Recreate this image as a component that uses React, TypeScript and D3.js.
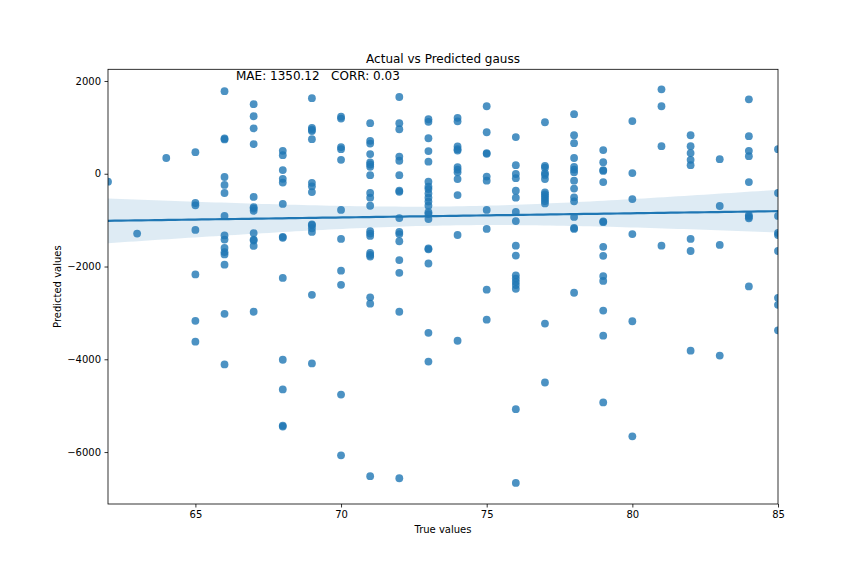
import React, { useEffect, useRef } from 'react';
import * as d3 from 'd3';

// true value -> predicted values at that true value
const trueValues = [62, 63, 64, 65, 66, 67, 68, 69, 70, 71, 72, 73, 74, 75, 76, 77, 78, 79, 80, 81, 82, 83, 84, 85];
const predicted: number[][] = [
    [-170],
    [-1290],
    [340],
    [465, -630, -680, -1210, -2170, -3170, -3620],
    [1780, 760, 740, -70, -240, -415, -910, -1330, -1420, -1600, -1690, -1740, -1960, -3020, -4110],
    [1500, 1240, 980, 640, -500, -720, -750, -800, -1280, -1420, -1440, -1555, -2975],
    [495, 400, 80, -110, -190, -650, -1360, -1380, -2245, -4010, -4650, -5430, -5450],
    [1630, 990, 950, 920, 745, -195, -270, -395, -1090, -1110, -1175, -1255, -2610, -4090],
    [1230, 1190, 575, 530, 300, -780, -1405, -2090, -2395, -4760, -6070],
    [1090, 710, 650, 425, 245, 200, 150, -30, -415, -515, -690, -1240, -1290, -1340, -1705, -1750, -1785, -2665, -2800, -6520],
    [1655, 1090, 960, 370, 280, -30, -365, -390, -955, -1255, -1300, -1455, -1860, -2135, -2975, -6565],
    [1175, 1120, 765, 490, 260, -170, -280, -330, -425, -515, -600, -690, -830, -870, -975, -1610, -1630, -1935, -3430, -4050],
    [1205, 1130, 590, 530, 500, 145, 90, 30, -115, -460, -1320, -3600],
    [1455, 895, 445, 430, -60, -150, -780, -1190, -2500, -3145],
    [790, 185, -5, -95, -365, -515, -825, -1020, -1550, -1765, -2190, -2260, -2330, -2400, -2480, -5075, -6665],
    [1110, 170, 130, 15, -25, -115, -400, -445, -490, -540, -590, -640, -3230, -4500],
    [1285, 830, 660, 340, 150, 90, 35, -150, -320, -510, -595, -930, -1170, -1190, -2565],
    [510, 250, 80, 60, -180, -1025, -1045, -1575, -1770, -2205, -2310, -2950, -3490, -4930],
    [1135, 15, -545, -1300, -3180, -5660],
    [1820, 1455, 595, -1550],
    [830, 595, 445, 300, 185, -1405, -1665, -3815],
    [315, -695, -1535, -3920],
    [1605, 810, 495, 380, -180, -895, -925, -960, -2430],
    [530, -415, -910, -1275, -1320, -1665, -2675, -2825, -3375],
];
const xTicks = [65, 70, 75, 80, 85];
const yTicks = [-6000, -4000, -2000, 0, 2000];
const titleText = 'Actual vs Predicted gauss';
const scoreText = 'MAE: 1350.12   CORR: 0.03';

interface Pt { x: number; y: number; }

export default function App() {
    const svgRef = useRef<SVGSVGElement>(null);

    useEffect(() => {
        if (!svgRef.current) return;
        const svg = d3.select(svgRef.current);
        svg.selectAll('*').remove();

        const W = 864, H = 576;
        const margin = { top: 69.3, right: 86, bottom: 72, left: 108 };
        const width = W - margin.left - margin.right;
        const height = H - margin.top - margin.bottom;
        const font = '"DejaVu Sans", sans-serif';
        const color = '#1f77b4';

        const points: Pt[] = [];
        trueValues.forEach((tv, i) => predicted[i].forEach(p => points.push({ x: tv, y: p })));

        const x = d3.scaleLinear().domain([62, 85]).range([0, width]);
        const y = d3.scaleLinear().domain([-7120, 2252]).range([height, 0]);

        svg.append('defs').append('clipPath').attr('id', 'plot-clip')
            .append('rect').attr('width', width).attr('height', height);

        const g = svg.append('g').attr('transform', `translate(${margin.left},${margin.top})`);
        const plot = g.append('g').attr('clip-path', 'url(#plot-clip)');

        // Regression (OLS) with 95% CI of the mean
        const n = points.length;
        const mx = d3.mean(points, d => d.x)!;
        const my = d3.mean(points, d => d.y)!;
        const sxx = d3.sum(points, d => (d.x - mx) ** 2);
        const sxy = d3.sum(points, d => (d.x - mx) * (d.y - my));
        const slope = sxy / sxx;
        const icpt = my - slope * mx;
        const resid = d3.sum(points, d => (d.y - (icpt + slope * d.x)) ** 2);
        const s = Math.sqrt(resid / (n - 2));
        const grid = d3.range(0, 101).map(i => 62 + (23 * i) / 100);
        const band = grid.map(gx => {
            const fit = icpt + slope * gx;
            const se = s * Math.sqrt(1 / n + (gx - mx) ** 2 / sxx);
            return { x: gx, fit, lo: fit - 1.96 * se, hi: fit + 1.96 * se };
        });

        plot.append('path')
            .datum(band)
            .attr('fill', color)
            .attr('fill-opacity', 0.15)
            .attr('d', d3.area<typeof band[0]>().x(d => x(d.x)).y0(d => y(d.lo)).y1(d => y(d.hi)));

        // Scatter
        plot.append('g')
            .selectAll('circle')
            .data(points)
            .join('circle')
            .attr('cx', d => x(d.x))
            .attr('cy', d => y(d.y))
            .attr('r', 3.9)
            .attr('fill', color)
            .attr('fill-opacity', 0.8);

        plot.append('path')
            .datum(band)
            .attr('fill', 'none')
            .attr('stroke', color)
            .attr('stroke-width', 2.2)
            .attr('d', d3.line<typeof band[0]>().x(d => x(d.x)).y(d => y(d.fit)));

        // Axes
        const fmt = (d: d3.NumberValue) => String(d).replace('-', '\u2212');
        const xAxis = g.append('g')
            .attr('transform', `translate(0,${height})`)
            .call(d3.axisBottom(x).tickValues(xTicks).tickSize(3.5).tickPadding(3.5).tickFormat(fmt));
        const yAxis = g.append('g')
            .call(d3.axisLeft(y).tickValues(yTicks).tickSize(3.5).tickPadding(3.5).tickFormat(fmt));
        [xAxis, yAxis].forEach(a => {
            a.select('.domain').remove();
            a.selectAll('text').style('font-family', font).style('font-size', '10px').attr('fill', '#000');
            a.selectAll('line').attr('stroke', '#000').attr('stroke-width', 0.8);
        });

        g.append('rect')
            .attr('width', width)
            .attr('height', height)
            .attr('fill', 'none')
            .attr('stroke', '#000')
            .attr('stroke-width', 0.8);

        // Texts
        svg.append('text')
            .attr('x', margin.left + width / 2)
            .attr('y', margin.top - 6)
            .attr('text-anchor', 'middle')
            .style('font-family', font)
            .style('font-size', '12px')
            .text(titleText);

        svg.append('text')
            .attr('x', 236)
            .attr('y', 80)
            .style('font-family', font)
            .style('font-size', '12px')
            .style('white-space', 'pre')
            .attr('xml:space', 'preserve')
            .text(scoreText);

        svg.append('text')
            .attr('x', margin.left + width / 2)
            .attr('y', 533)
            .attr('text-anchor', 'middle')
            .style('font-family', font)
            .style('font-size', '10px')
            .text('True values');

        svg.append('text')
            .attr('transform', `translate(61,${margin.top + height / 2}) rotate(-90)`)
            .attr('text-anchor', 'middle')
            .style('font-family', font)
            .style('font-size', '10px')
            .text('Predicted values');
    }, []);

    return (
        <div style={{ position: 'absolute', left: 0, top: 0, width: 864, height: 576, background: '#fff' }}>
            <svg ref={svgRef} width={864} height={576} />
        </div>
    );
}
